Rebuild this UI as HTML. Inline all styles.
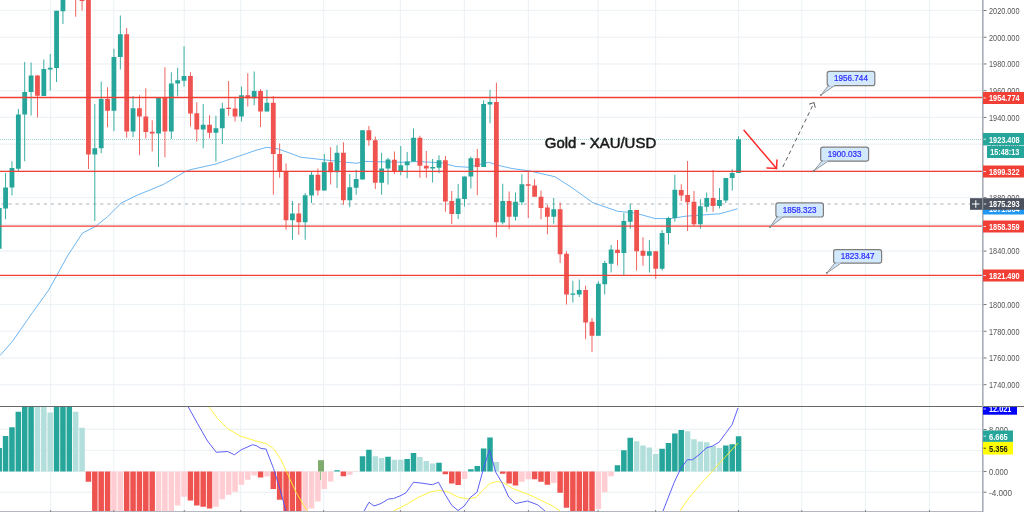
<!DOCTYPE html>
<html><head><meta charset="utf-8"><title>Gold - XAU/USD</title><style>html,body{margin:0;padding:0;background:#fff;overflow:hidden}svg{display:block}</style></head><body>
<svg width="1024" height="512" viewBox="0 0 1024 512" font-family="'Liberation Sans', sans-serif">
<defs><clipPath id="main"><rect x="0" y="0" width="982" height="406"/></clipPath><clipPath id="macd"><rect x="0" y="407" width="982" height="104"/></clipPath><clipPath id="macdax"><rect x="982" y="407" width="42" height="105"/></clipPath></defs>
<rect width="1024" height="512" fill="#fff"/>
<rect x="50.00" y="0" width="1.2" height="511" fill="#edf2f6"/>
<rect x="113.15" y="0" width="1.2" height="511" fill="#edf2f6"/>
<rect x="183.65" y="0" width="1.2" height="511" fill="#edf2f6"/>
<rect x="240.15" y="0" width="1.2" height="511" fill="#edf2f6"/>
<rect x="323.00" y="0" width="1.2" height="511" fill="#edf2f6"/>
<rect x="399.80" y="0" width="1.2" height="511" fill="#edf2f6"/>
<rect x="463.80" y="0" width="1.2" height="511" fill="#edf2f6"/>
<rect x="527.80" y="0" width="1.2" height="511" fill="#edf2f6"/>
<rect x="597.50" y="0" width="1.2" height="511" fill="#edf2f6"/>
<rect x="655.00" y="0" width="1.2" height="511" fill="#edf2f6"/>
<rect x="737.90" y="0" width="1.2" height="511" fill="#edf2f6"/>
<rect x="801.15" y="0" width="1.2" height="511" fill="#edf2f6"/>
<rect x="864.90" y="0" width="1.2" height="511" fill="#edf2f6"/>
<rect x="928.90" y="0" width="1.2" height="511" fill="#edf2f6"/>
<rect x="0" y="384.12" width="982" height="1.2" fill="#edf2f6"/>
<rect x="0" y="357.39" width="982" height="1.2" fill="#edf2f6"/>
<rect x="0" y="330.66" width="982" height="1.2" fill="#edf2f6"/>
<rect x="0" y="303.93" width="982" height="1.2" fill="#edf2f6"/>
<rect x="0" y="277.20" width="982" height="1.2" fill="#edf2f6"/>
<rect x="0" y="250.47" width="982" height="1.2" fill="#edf2f6"/>
<rect x="0" y="223.74" width="982" height="1.2" fill="#edf2f6"/>
<rect x="0" y="197.01" width="982" height="1.2" fill="#edf2f6"/>
<rect x="0" y="170.28" width="982" height="1.2" fill="#edf2f6"/>
<rect x="0" y="143.55" width="982" height="1.2" fill="#edf2f6"/>
<rect x="0" y="116.82" width="982" height="1.2" fill="#edf2f6"/>
<rect x="0" y="90.09" width="982" height="1.2" fill="#edf2f6"/>
<rect x="0" y="63.36" width="982" height="1.2" fill="#edf2f6"/>
<rect x="0" y="36.63" width="982" height="1.2" fill="#edf2f6"/>
<rect x="0" y="9.90" width="982" height="1.2" fill="#edf2f6"/>
<rect x="0" y="428.70" width="982" height="1.2" fill="#edf2f6"/>
<rect x="0" y="449.80" width="982" height="1.2" fill="#edf2f6"/>
<rect x="0" y="470.90" width="982" height="1.2" fill="#edf2f6"/>
<rect x="0" y="491.70" width="982" height="1.2" fill="#edf2f6"/>
<g clip-path="url(#main)">
<line x1="0" y1="139.5" x2="982" y2="139.5" stroke="#26a69a" stroke-width="1" stroke-dasharray="1 1" opacity="0.48"/>
<line x1="1.4" y1="204" x2="982" y2="204" stroke="#c8cbd2" stroke-width="1.4" stroke-dasharray="3.2 3.86"/>
<polyline points="0.00,355.50 12.50,341.25 32.50,312.50 48.75,290.00 67.50,256.00 82.50,233.00 95.00,226.75 107.50,216.75 121.25,203.00 137.50,195.00 150.00,190.00 163.75,184.25 185.00,171.75 190.00,169.75 215.00,164.25 235.00,157.50 256.00,150.25 267.00,147.25 278.50,149.00 301.00,157.25 323.50,159.75 356.00,163.25 366.00,161.50 406.00,162.25 416.00,161.50 441.00,162.75 456.00,166.50 468.50,167.25 488.50,162.25 501.00,166.00 512.00,168.50 530.00,171.00 555.00,176.75 572.50,188.00 592.50,202.50 617.50,211.25 635.00,213.00 655.00,218.50 670.00,218.75 685.00,216.25 720.00,213.75 737.50,208.75" fill="none" stroke="#6db6f3" stroke-width="1.0" stroke-linejoin="round"/>
<rect x="-1.24" y="200.00" width="0.9" height="50.00" fill="#26a69a"/>
<rect x="-3.19" y="208.00" width="4.8" height="40.75" fill="#26a69a"/>
<rect x="5.13" y="173.00" width="0.9" height="46.25" fill="#26a69a"/>
<rect x="3.18" y="187.50" width="4.8" height="21.00" fill="#26a69a"/>
<rect x="11.51" y="161.25" width="0.9" height="34.25" fill="#26a69a"/>
<rect x="9.56" y="168.00" width="4.8" height="19.50" fill="#26a69a"/>
<rect x="17.88" y="109.00" width="0.9" height="62.00" fill="#26a69a"/>
<rect x="15.93" y="114.50" width="4.8" height="54.25" fill="#26a69a"/>
<rect x="24.25" y="62.00" width="0.9" height="99.25" fill="#26a69a"/>
<rect x="22.30" y="92.00" width="4.8" height="22.50" fill="#26a69a"/>
<rect x="30.63" y="62.50" width="0.9" height="53.00" fill="#26a69a"/>
<rect x="28.68" y="75.50" width="4.8" height="16.50" fill="#26a69a"/>
<rect x="37.00" y="75.00" width="0.9" height="42.50" fill="#ef5350"/>
<rect x="35.05" y="75.50" width="4.8" height="20.25" fill="#ef5350"/>
<rect x="43.38" y="59.50" width="0.9" height="36.50" fill="#26a69a"/>
<rect x="41.43" y="69.00" width="4.8" height="27.00" fill="#26a69a"/>
<rect x="49.75" y="54.00" width="0.9" height="36.50" fill="#26a69a"/>
<rect x="47.80" y="67.75" width="4.8" height="1.75" fill="#26a69a"/>
<rect x="56.12" y="10.75" width="0.9" height="71.25" fill="#26a69a"/>
<rect x="54.17" y="10.75" width="4.8" height="57.25" fill="#26a69a"/>
<rect x="62.50" y="-5.00" width="0.9" height="29.00" fill="#26a69a"/>
<rect x="60.55" y="-5.00" width="4.8" height="16.25" fill="#26a69a"/>
<rect x="75.25" y="-5.00" width="0.9" height="21.75" fill="#ef5350"/>
<rect x="73.30" y="-5.00" width="4.8" height="1.20" fill="#ef5350"/>
<rect x="81.62" y="-5.00" width="0.9" height="15.50" fill="#ef5350"/>
<rect x="79.67" y="-5.00" width="4.8" height="6.00" fill="#ef5350"/>
<rect x="87.99" y="-5.00" width="0.9" height="174.00" fill="#ef5350"/>
<rect x="86.04" y="-5.00" width="4.8" height="159.50" fill="#ef5350"/>
<rect x="94.37" y="104.00" width="0.9" height="117.00" fill="#26a69a"/>
<rect x="92.42" y="148.25" width="4.8" height="6.25" fill="#26a69a"/>
<rect x="100.74" y="81.50" width="0.9" height="71.75" fill="#26a69a"/>
<rect x="98.79" y="99.00" width="4.8" height="49.25" fill="#26a69a"/>
<rect x="107.12" y="87.25" width="0.9" height="40.00" fill="#ef5350"/>
<rect x="105.17" y="99.00" width="4.8" height="11.75" fill="#ef5350"/>
<rect x="113.49" y="48.75" width="0.9" height="82.25" fill="#26a69a"/>
<rect x="111.54" y="57.00" width="4.8" height="53.75" fill="#26a69a"/>
<rect x="119.86" y="15.50" width="0.9" height="54.00" fill="#26a69a"/>
<rect x="117.91" y="34.25" width="4.8" height="22.75" fill="#26a69a"/>
<rect x="126.24" y="28.00" width="0.9" height="109.75" fill="#ef5350"/>
<rect x="124.29" y="34.25" width="4.8" height="97.25" fill="#ef5350"/>
<rect x="132.61" y="96.00" width="0.9" height="41.25" fill="#26a69a"/>
<rect x="130.66" y="108.25" width="4.8" height="23.25" fill="#26a69a"/>
<rect x="138.99" y="95.25" width="0.9" height="60.00" fill="#ef5350"/>
<rect x="137.04" y="108.25" width="4.8" height="8.25" fill="#ef5350"/>
<rect x="145.36" y="88.25" width="0.9" height="50.25" fill="#ef5350"/>
<rect x="143.41" y="116.50" width="4.8" height="15.50" fill="#ef5350"/>
<rect x="151.73" y="120.25" width="0.9" height="31.25" fill="#ef5350"/>
<rect x="149.78" y="131.75" width="4.8" height="1.75" fill="#ef5350"/>
<rect x="158.11" y="97.75" width="0.9" height="69.25" fill="#26a69a"/>
<rect x="156.16" y="97.75" width="4.8" height="35.75" fill="#26a69a"/>
<rect x="164.48" y="67.25" width="0.9" height="90.00" fill="#ef5350"/>
<rect x="162.53" y="97.75" width="4.8" height="33.75" fill="#ef5350"/>
<rect x="170.86" y="72.25" width="0.9" height="66.75" fill="#26a69a"/>
<rect x="168.91" y="83.50" width="4.8" height="48.00" fill="#26a69a"/>
<rect x="177.23" y="67.75" width="0.9" height="28.75" fill="#26a69a"/>
<rect x="175.28" y="80.25" width="4.8" height="3.25" fill="#26a69a"/>
<rect x="183.60" y="46.25" width="0.9" height="40.25" fill="#26a69a"/>
<rect x="181.65" y="76.00" width="4.8" height="4.75" fill="#26a69a"/>
<rect x="189.98" y="72.25" width="0.9" height="54.25" fill="#ef5350"/>
<rect x="188.03" y="76.00" width="4.8" height="37.50" fill="#ef5350"/>
<rect x="196.35" y="102.25" width="0.9" height="39.25" fill="#ef5350"/>
<rect x="194.40" y="113.25" width="4.8" height="16.25" fill="#ef5350"/>
<rect x="202.73" y="104.00" width="0.9" height="44.25" fill="#26a69a"/>
<rect x="200.78" y="124.75" width="4.8" height="4.75" fill="#26a69a"/>
<rect x="209.10" y="115.25" width="0.9" height="23.00" fill="#ef5350"/>
<rect x="207.15" y="124.75" width="4.8" height="8.00" fill="#ef5350"/>
<rect x="215.47" y="115.75" width="0.9" height="45.75" fill="#26a69a"/>
<rect x="213.52" y="128.25" width="4.8" height="4.50" fill="#26a69a"/>
<rect x="221.85" y="102.75" width="0.9" height="41.25" fill="#26a69a"/>
<rect x="219.90" y="108.50" width="4.8" height="19.75" fill="#26a69a"/>
<rect x="228.22" y="81.00" width="0.9" height="34.75" fill="#ef5350"/>
<rect x="226.27" y="107.75" width="4.8" height="1.25" fill="#ef5350"/>
<rect x="234.60" y="97.75" width="0.9" height="23.75" fill="#ef5350"/>
<rect x="232.65" y="108.50" width="4.8" height="8.00" fill="#ef5350"/>
<rect x="240.97" y="86.50" width="0.9" height="35.00" fill="#26a69a"/>
<rect x="239.02" y="95.25" width="4.8" height="21.25" fill="#26a69a"/>
<rect x="247.34" y="73.25" width="0.9" height="33.25" fill="#ef5350"/>
<rect x="245.39" y="95.25" width="4.8" height="3.00" fill="#ef5350"/>
<rect x="253.72" y="71.50" width="0.9" height="33.75" fill="#26a69a"/>
<rect x="251.77" y="91.00" width="4.8" height="7.25" fill="#26a69a"/>
<rect x="260.09" y="89.00" width="0.9" height="38.00" fill="#ef5350"/>
<rect x="258.14" y="91.00" width="4.8" height="20.50" fill="#ef5350"/>
<rect x="266.47" y="89.75" width="0.9" height="21.75" fill="#26a69a"/>
<rect x="264.52" y="102.75" width="4.8" height="8.75" fill="#26a69a"/>
<rect x="272.84" y="96.00" width="0.9" height="98.75" fill="#ef5350"/>
<rect x="270.89" y="102.75" width="4.8" height="51.25" fill="#ef5350"/>
<rect x="279.21" y="143.50" width="0.9" height="34.25" fill="#ef5350"/>
<rect x="277.26" y="154.00" width="4.8" height="17.50" fill="#ef5350"/>
<rect x="285.59" y="163.50" width="0.9" height="66.25" fill="#ef5350"/>
<rect x="283.64" y="171.50" width="4.8" height="48.75" fill="#ef5350"/>
<rect x="291.96" y="201.00" width="0.9" height="38.75" fill="#26a69a"/>
<rect x="290.01" y="213.50" width="4.8" height="6.75" fill="#26a69a"/>
<rect x="298.34" y="203.50" width="0.9" height="31.25" fill="#ef5350"/>
<rect x="296.39" y="213.50" width="4.8" height="8.75" fill="#ef5350"/>
<rect x="304.71" y="193.00" width="0.9" height="46.75" fill="#26a69a"/>
<rect x="302.76" y="195.25" width="4.8" height="27.00" fill="#26a69a"/>
<rect x="311.08" y="171.50" width="0.9" height="31.50" fill="#26a69a"/>
<rect x="309.13" y="174.75" width="4.8" height="20.75" fill="#26a69a"/>
<rect x="317.46" y="168.50" width="0.9" height="27.00" fill="#ef5350"/>
<rect x="315.51" y="174.75" width="4.8" height="15.75" fill="#ef5350"/>
<rect x="323.83" y="154.00" width="0.9" height="36.50" fill="#26a69a"/>
<rect x="321.88" y="162.25" width="4.8" height="28.25" fill="#26a69a"/>
<rect x="330.21" y="147.25" width="0.9" height="37.25" fill="#ef5350"/>
<rect x="328.26" y="162.25" width="4.8" height="10.00" fill="#ef5350"/>
<rect x="336.58" y="145.25" width="0.9" height="42.75" fill="#26a69a"/>
<rect x="334.63" y="152.75" width="4.8" height="19.50" fill="#26a69a"/>
<rect x="342.95" y="142.25" width="0.9" height="62.50" fill="#ef5350"/>
<rect x="341.00" y="152.75" width="4.8" height="47.50" fill="#ef5350"/>
<rect x="349.33" y="174.00" width="0.9" height="33.25" fill="#26a69a"/>
<rect x="347.38" y="187.25" width="4.8" height="13.00" fill="#26a69a"/>
<rect x="355.70" y="169.75" width="0.9" height="25.00" fill="#26a69a"/>
<rect x="353.75" y="179.00" width="4.8" height="8.75" fill="#26a69a"/>
<rect x="362.08" y="130.25" width="0.9" height="49.25" fill="#26a69a"/>
<rect x="360.13" y="130.25" width="4.8" height="49.25" fill="#26a69a"/>
<rect x="368.45" y="126.00" width="0.9" height="19.75" fill="#ef5350"/>
<rect x="366.50" y="130.25" width="4.8" height="10.00" fill="#ef5350"/>
<rect x="374.82" y="136.50" width="0.9" height="52.50" fill="#ef5350"/>
<rect x="372.87" y="140.25" width="4.8" height="42.50" fill="#ef5350"/>
<rect x="381.20" y="152.75" width="0.9" height="42.00" fill="#26a69a"/>
<rect x="379.25" y="168.50" width="4.8" height="14.25" fill="#26a69a"/>
<rect x="387.57" y="157.75" width="0.9" height="26.75" fill="#26a69a"/>
<rect x="385.62" y="159.50" width="4.8" height="9.00" fill="#26a69a"/>
<rect x="393.95" y="151.50" width="0.9" height="22.50" fill="#ef5350"/>
<rect x="392.00" y="159.75" width="4.8" height="11.75" fill="#ef5350"/>
<rect x="400.32" y="146.00" width="0.9" height="29.25" fill="#26a69a"/>
<rect x="398.37" y="165.25" width="4.8" height="6.25" fill="#26a69a"/>
<rect x="406.69" y="152.00" width="0.9" height="26.25" fill="#26a69a"/>
<rect x="404.74" y="161.50" width="4.8" height="3.75" fill="#26a69a"/>
<rect x="413.07" y="128.50" width="0.9" height="33.00" fill="#26a69a"/>
<rect x="411.12" y="137.75" width="4.8" height="23.75" fill="#26a69a"/>
<rect x="419.44" y="135.75" width="0.9" height="42.00" fill="#ef5350"/>
<rect x="417.49" y="137.75" width="4.8" height="28.00" fill="#ef5350"/>
<rect x="425.82" y="151.00" width="0.9" height="26.75" fill="#ef5350"/>
<rect x="423.87" y="165.75" width="4.8" height="2.75" fill="#ef5350"/>
<rect x="432.19" y="159.00" width="0.9" height="23.50" fill="#26a69a"/>
<rect x="430.24" y="167.00" width="4.8" height="1.50" fill="#26a69a"/>
<rect x="438.56" y="155.25" width="0.9" height="18.00" fill="#26a69a"/>
<rect x="436.61" y="160.25" width="4.8" height="7.50" fill="#26a69a"/>
<rect x="444.94" y="156.00" width="0.9" height="55.75" fill="#ef5350"/>
<rect x="442.99" y="160.25" width="4.8" height="41.25" fill="#ef5350"/>
<rect x="451.31" y="191.00" width="0.9" height="33.00" fill="#ef5350"/>
<rect x="449.36" y="201.00" width="4.8" height="13.00" fill="#ef5350"/>
<rect x="457.69" y="184.00" width="0.9" height="35.00" fill="#26a69a"/>
<rect x="455.74" y="198.50" width="4.8" height="15.50" fill="#26a69a"/>
<rect x="464.06" y="176.50" width="0.9" height="30.00" fill="#26a69a"/>
<rect x="462.11" y="176.50" width="4.8" height="22.50" fill="#26a69a"/>
<rect x="470.43" y="156.50" width="0.9" height="32.00" fill="#26a69a"/>
<rect x="468.48" y="158.25" width="4.8" height="18.25" fill="#26a69a"/>
<rect x="476.81" y="149.00" width="0.9" height="46.25" fill="#ef5350"/>
<rect x="474.86" y="158.25" width="4.8" height="8.75" fill="#ef5350"/>
<rect x="483.18" y="100.25" width="0.9" height="66.75" fill="#26a69a"/>
<rect x="481.23" y="104.00" width="4.8" height="63.00" fill="#26a69a"/>
<rect x="489.56" y="89.75" width="0.9" height="33.50" fill="#26a69a"/>
<rect x="487.61" y="102.00" width="4.8" height="2.50" fill="#26a69a"/>
<rect x="495.93" y="82.75" width="0.9" height="154.50" fill="#ef5350"/>
<rect x="493.98" y="102.00" width="4.8" height="120.25" fill="#ef5350"/>
<rect x="502.30" y="183.75" width="0.9" height="40.50" fill="#26a69a"/>
<rect x="500.35" y="201.00" width="4.8" height="21.50" fill="#26a69a"/>
<rect x="508.68" y="191.50" width="0.9" height="37.75" fill="#ef5350"/>
<rect x="506.73" y="201.00" width="4.8" height="15.75" fill="#ef5350"/>
<rect x="515.05" y="192.50" width="0.9" height="28.00" fill="#26a69a"/>
<rect x="513.10" y="201.75" width="4.8" height="15.00" fill="#26a69a"/>
<rect x="521.43" y="174.25" width="0.9" height="30.75" fill="#26a69a"/>
<rect x="519.48" y="184.25" width="4.8" height="18.00" fill="#26a69a"/>
<rect x="527.80" y="171.00" width="0.9" height="47.00" fill="#ef5350"/>
<rect x="525.85" y="184.25" width="4.8" height="1.50" fill="#ef5350"/>
<rect x="534.17" y="179.25" width="0.9" height="17.50" fill="#ef5350"/>
<rect x="532.22" y="185.50" width="4.8" height="11.25" fill="#ef5350"/>
<rect x="540.55" y="190.50" width="0.9" height="28.75" fill="#ef5350"/>
<rect x="538.60" y="196.75" width="4.8" height="11.25" fill="#ef5350"/>
<rect x="546.92" y="205.00" width="0.9" height="29.25" fill="#ef5350"/>
<rect x="544.97" y="207.50" width="4.8" height="9.25" fill="#ef5350"/>
<rect x="553.30" y="198.00" width="0.9" height="25.75" fill="#26a69a"/>
<rect x="551.35" y="209.25" width="4.8" height="7.50" fill="#26a69a"/>
<rect x="559.67" y="202.50" width="0.9" height="60.50" fill="#ef5350"/>
<rect x="557.72" y="209.25" width="4.8" height="45.00" fill="#ef5350"/>
<rect x="566.04" y="251.25" width="0.9" height="53.25" fill="#ef5350"/>
<rect x="564.09" y="253.75" width="4.8" height="40.75" fill="#ef5350"/>
<rect x="572.42" y="280.75" width="0.9" height="21.75" fill="#26a69a"/>
<rect x="570.47" y="293.50" width="4.8" height="1.25" fill="#26a69a"/>
<rect x="578.79" y="279.50" width="0.9" height="17.50" fill="#26a69a"/>
<rect x="576.84" y="290.00" width="4.8" height="4.50" fill="#26a69a"/>
<rect x="585.17" y="285.75" width="0.9" height="53.50" fill="#ef5350"/>
<rect x="583.22" y="290.00" width="4.8" height="32.50" fill="#ef5350"/>
<rect x="591.54" y="318.00" width="0.9" height="34.00" fill="#ef5350"/>
<rect x="589.59" y="321.75" width="4.8" height="14.00" fill="#ef5350"/>
<rect x="597.91" y="281.25" width="0.9" height="54.50" fill="#26a69a"/>
<rect x="595.96" y="283.75" width="4.8" height="52.00" fill="#26a69a"/>
<rect x="604.29" y="260.75" width="0.9" height="33.75" fill="#26a69a"/>
<rect x="602.34" y="263.00" width="4.8" height="21.25" fill="#26a69a"/>
<rect x="610.66" y="245.00" width="0.9" height="27.50" fill="#26a69a"/>
<rect x="608.71" y="249.50" width="4.8" height="14.25" fill="#26a69a"/>
<rect x="617.04" y="240.00" width="0.9" height="25.50" fill="#ef5350"/>
<rect x="615.09" y="249.75" width="4.8" height="3.25" fill="#ef5350"/>
<rect x="623.41" y="213.00" width="0.9" height="62.00" fill="#26a69a"/>
<rect x="621.46" y="221.00" width="4.8" height="32.00" fill="#26a69a"/>
<rect x="629.78" y="203.75" width="0.9" height="25.00" fill="#26a69a"/>
<rect x="627.83" y="210.00" width="4.8" height="11.75" fill="#26a69a"/>
<rect x="636.16" y="210.00" width="0.9" height="60.50" fill="#ef5350"/>
<rect x="634.21" y="210.00" width="4.8" height="41.25" fill="#ef5350"/>
<rect x="642.53" y="237.25" width="0.9" height="28.50" fill="#ef5350"/>
<rect x="640.58" y="250.75" width="4.8" height="5.00" fill="#ef5350"/>
<rect x="648.91" y="240.00" width="0.9" height="32.50" fill="#26a69a"/>
<rect x="646.96" y="251.25" width="4.8" height="4.50" fill="#26a69a"/>
<rect x="655.28" y="251.00" width="0.9" height="27.75" fill="#ef5350"/>
<rect x="653.33" y="251.25" width="4.8" height="17.50" fill="#ef5350"/>
<rect x="661.65" y="230.00" width="0.9" height="40.50" fill="#26a69a"/>
<rect x="659.70" y="233.00" width="4.8" height="35.75" fill="#26a69a"/>
<rect x="668.03" y="216.75" width="0.9" height="27.75" fill="#26a69a"/>
<rect x="666.08" y="218.00" width="4.8" height="15.00" fill="#26a69a"/>
<rect x="674.40" y="174.75" width="0.9" height="47.00" fill="#26a69a"/>
<rect x="672.45" y="189.75" width="4.8" height="28.25" fill="#26a69a"/>
<rect x="680.78" y="184.25" width="0.9" height="16.75" fill="#ef5350"/>
<rect x="678.83" y="190.00" width="4.8" height="5.50" fill="#ef5350"/>
<rect x="687.15" y="161.00" width="0.9" height="70.00" fill="#ef5350"/>
<rect x="685.20" y="195.00" width="4.8" height="7.25" fill="#ef5350"/>
<rect x="693.52" y="191.00" width="0.9" height="35.00" fill="#ef5350"/>
<rect x="691.57" y="201.75" width="4.8" height="22.50" fill="#ef5350"/>
<rect x="699.90" y="199.25" width="0.9" height="29.50" fill="#26a69a"/>
<rect x="697.95" y="206.25" width="4.8" height="18.00" fill="#26a69a"/>
<rect x="706.27" y="192.50" width="0.9" height="19.25" fill="#26a69a"/>
<rect x="704.32" y="198.00" width="4.8" height="8.75" fill="#26a69a"/>
<rect x="712.65" y="170.00" width="0.9" height="41.75" fill="#ef5350"/>
<rect x="710.70" y="198.00" width="4.8" height="8.00" fill="#ef5350"/>
<rect x="719.02" y="188.00" width="0.9" height="20.50" fill="#26a69a"/>
<rect x="717.07" y="200.00" width="4.8" height="6.00" fill="#26a69a"/>
<rect x="725.39" y="178.00" width="0.9" height="25.00" fill="#26a69a"/>
<rect x="723.44" y="178.00" width="4.8" height="22.50" fill="#26a69a"/>
<rect x="731.77" y="169.25" width="0.9" height="21.25" fill="#26a69a"/>
<rect x="729.82" y="173.00" width="4.8" height="5.00" fill="#26a69a"/>
<rect x="738.14" y="136.25" width="0.9" height="36.75" fill="#26a69a"/>
<rect x="736.19" y="139.25" width="4.8" height="33.75" fill="#26a69a"/>
<line x1="0" y1="97.5" x2="982" y2="97.5" stroke="#f23f36" stroke-width="1.3"/>
<line x1="0" y1="171.45" x2="982" y2="171.45" stroke="#f23f36" stroke-width="1.3"/>
<line x1="0" y1="226.1" x2="982" y2="226.1" stroke="#f23f36" stroke-width="1.3"/>
<line x1="0" y1="275.4" x2="982" y2="275.4" stroke="#f23f36" stroke-width="1.3"/>
</g>
<g clip-path="url(#macd)">
<rect x="-3.54" y="448.00" width="5.5" height="23.50" fill="#26a69a"/>
<rect x="2.83" y="436.00" width="5.5" height="35.50" fill="#26a69a"/>
<rect x="9.21" y="427.25" width="5.5" height="44.25" fill="#26a69a"/>
<rect x="15.58" y="411.75" width="5.5" height="59.75" fill="#26a69a"/>
<rect x="21.95" y="400.00" width="5.5" height="71.50" fill="#26a69a"/>
<rect x="28.33" y="400.00" width="5.5" height="71.50" fill="#26a69a"/>
<rect x="34.70" y="400.00" width="5.5" height="71.50" fill="#b2dfdb"/>
<rect x="41.08" y="400.00" width="5.5" height="71.50" fill="#b2dfdb"/>
<rect x="47.45" y="412.50" width="5.5" height="59.00" fill="#b2dfdb"/>
<rect x="53.82" y="407.00" width="5.5" height="64.50" fill="#26a69a"/>
<rect x="60.20" y="400.00" width="5.5" height="71.50" fill="#26a69a"/>
<rect x="66.57" y="400.00" width="5.5" height="71.50" fill="#26a69a"/>
<rect x="72.95" y="411.75" width="5.5" height="59.75" fill="#b2dfdb"/>
<rect x="79.32" y="427.75" width="5.5" height="43.75" fill="#b2dfdb"/>
<rect x="85.69" y="471.50" width="5.5" height="10.25" fill="#ef5350"/>
<rect x="92.07" y="471.50" width="5.5" height="48.50" fill="#ef5350"/>
<rect x="98.44" y="471.50" width="5.5" height="48.50" fill="#ef5350"/>
<rect x="104.82" y="471.50" width="5.5" height="48.50" fill="#ef5350"/>
<rect x="111.19" y="471.50" width="5.5" height="48.50" fill="#ffcdd2"/>
<rect x="117.56" y="471.50" width="5.5" height="48.50" fill="#ffcdd2"/>
<rect x="123.94" y="471.50" width="5.5" height="48.50" fill="#ef5350"/>
<rect x="130.31" y="471.50" width="5.5" height="48.50" fill="#ef5350"/>
<rect x="136.69" y="471.50" width="5.5" height="48.50" fill="#ef5350"/>
<rect x="143.06" y="471.50" width="5.5" height="48.50" fill="#ef5350"/>
<rect x="149.43" y="471.50" width="5.5" height="48.50" fill="#ef5350"/>
<rect x="155.81" y="471.50" width="5.5" height="48.50" fill="#ffcdd2"/>
<rect x="162.18" y="471.50" width="5.5" height="48.50" fill="#ffcdd2"/>
<rect x="168.56" y="471.50" width="5.5" height="48.50" fill="#ffcdd2"/>
<rect x="174.93" y="471.50" width="5.5" height="34.00" fill="#ffcdd2"/>
<rect x="181.30" y="471.50" width="5.5" height="25.25" fill="#ffcdd2"/>
<rect x="187.68" y="471.50" width="5.5" height="29.00" fill="#ef5350"/>
<rect x="194.05" y="471.50" width="5.5" height="34.00" fill="#ef5350"/>
<rect x="200.43" y="471.50" width="5.5" height="35.25" fill="#ef5350"/>
<rect x="206.80" y="471.50" width="5.5" height="37.00" fill="#ef5350"/>
<rect x="213.17" y="471.50" width="5.5" height="35.25" fill="#ffcdd2"/>
<rect x="219.55" y="471.50" width="5.5" height="27.75" fill="#ffcdd2"/>
<rect x="225.92" y="471.50" width="5.5" height="23.25" fill="#ffcdd2"/>
<rect x="232.30" y="471.50" width="5.5" height="20.25" fill="#ffcdd2"/>
<rect x="238.67" y="471.50" width="5.5" height="13.25" fill="#ffcdd2"/>
<rect x="245.04" y="471.50" width="5.5" height="8.25" fill="#ffcdd2"/>
<rect x="251.42" y="471.50" width="5.5" height="4.00" fill="#ffcdd2"/>
<rect x="257.79" y="471.50" width="5.5" height="6.00" fill="#ef5350"/>
<rect x="264.17" y="471.50" width="5.5" height="5.00" fill="#ffcdd2"/>
<rect x="270.54" y="471.50" width="5.5" height="17.50" fill="#ef5350"/>
<rect x="276.91" y="471.50" width="5.5" height="28.25" fill="#ef5350"/>
<rect x="283.29" y="471.50" width="5.5" height="48.50" fill="#ef5350"/>
<rect x="289.66" y="471.50" width="5.5" height="48.50" fill="#ef5350"/>
<rect x="296.04" y="471.50" width="5.5" height="48.50" fill="#ef5350"/>
<rect x="302.41" y="471.50" width="5.5" height="48.50" fill="#ffcdd2"/>
<rect x="308.78" y="471.50" width="5.5" height="37.00" fill="#ffcdd2"/>
<rect x="315.16" y="471.50" width="5.5" height="30.00" fill="#ffcdd2"/>
<rect x="321.53" y="471.50" width="5.5" height="17.50" fill="#ffcdd2"/>
<rect x="327.91" y="471.50" width="5.5" height="10.00" fill="#ffcdd2"/>
<rect x="334.28" y="470.25" width="5.5" height="1.25" fill="#26a69a"/>
<rect x="340.65" y="471.50" width="5.5" height="4.75" fill="#ef5350"/>
<rect x="347.03" y="471.50" width="5.5" height="3.25" fill="#ffcdd2"/>
<rect x="353.40" y="471.50" width="5.5" height="0.50" fill="#ffcdd2"/>
<rect x="359.78" y="456.25" width="5.5" height="15.25" fill="#26a69a"/>
<rect x="366.15" y="449.75" width="5.5" height="21.75" fill="#26a69a"/>
<rect x="372.52" y="456.25" width="5.5" height="15.25" fill="#b2dfdb"/>
<rect x="378.90" y="458.00" width="5.5" height="13.50" fill="#b2dfdb"/>
<rect x="385.27" y="456.75" width="5.5" height="14.75" fill="#26a69a"/>
<rect x="391.65" y="459.75" width="5.5" height="11.75" fill="#b2dfdb"/>
<rect x="398.02" y="459.75" width="5.5" height="11.75" fill="#b2dfdb"/>
<rect x="404.39" y="459.00" width="5.5" height="12.50" fill="#26a69a"/>
<rect x="410.77" y="453.00" width="5.5" height="18.50" fill="#26a69a"/>
<rect x="417.14" y="457.00" width="5.5" height="14.50" fill="#b2dfdb"/>
<rect x="423.52" y="461.00" width="5.5" height="10.50" fill="#b2dfdb"/>
<rect x="429.89" y="463.50" width="5.5" height="8.00" fill="#b2dfdb"/>
<rect x="436.26" y="462.75" width="5.5" height="8.75" fill="#26a69a"/>
<rect x="442.64" y="471.50" width="5.5" height="2.75" fill="#ef5350"/>
<rect x="449.01" y="471.50" width="5.5" height="12.00" fill="#ef5350"/>
<rect x="455.39" y="471.50" width="5.5" height="13.50" fill="#ef5350"/>
<rect x="461.76" y="471.50" width="5.5" height="7.50" fill="#ffcdd2"/>
<rect x="468.13" y="469.25" width="5.5" height="2.25" fill="#26a69a"/>
<rect x="474.51" y="466.00" width="5.5" height="5.50" fill="#26a69a"/>
<rect x="480.88" y="448.50" width="5.5" height="23.00" fill="#26a69a"/>
<rect x="487.26" y="437.50" width="5.5" height="34.00" fill="#26a69a"/>
<rect x="493.63" y="462.00" width="5.5" height="9.50" fill="#b2dfdb"/>
<rect x="500.00" y="471.50" width="5.5" height="2.25" fill="#ef5350"/>
<rect x="506.38" y="471.50" width="5.5" height="12.00" fill="#ef5350"/>
<rect x="512.75" y="471.50" width="5.5" height="14.00" fill="#ef5350"/>
<rect x="519.13" y="471.50" width="5.5" height="10.25" fill="#ffcdd2"/>
<rect x="525.50" y="471.50" width="5.5" height="7.75" fill="#ffcdd2"/>
<rect x="531.87" y="471.50" width="5.5" height="7.75" fill="#ef5350"/>
<rect x="538.25" y="471.50" width="5.5" height="10.25" fill="#ef5350"/>
<rect x="544.62" y="471.50" width="5.5" height="13.25" fill="#ef5350"/>
<rect x="551.00" y="471.50" width="5.5" height="11.50" fill="#ffcdd2"/>
<rect x="557.37" y="471.50" width="5.5" height="21.25" fill="#ef5350"/>
<rect x="563.74" y="471.50" width="5.5" height="36.25" fill="#ef5350"/>
<rect x="570.12" y="471.50" width="5.5" height="48.50" fill="#ef5350"/>
<rect x="576.49" y="471.50" width="5.5" height="48.50" fill="#ef5350"/>
<rect x="582.87" y="471.50" width="5.5" height="48.50" fill="#ef5350"/>
<rect x="589.24" y="471.50" width="5.5" height="48.50" fill="#ef5350"/>
<rect x="595.61" y="471.50" width="5.5" height="37.50" fill="#ffcdd2"/>
<rect x="601.99" y="471.50" width="5.5" height="20.75" fill="#ffcdd2"/>
<rect x="608.36" y="471.50" width="5.5" height="4.75" fill="#ffcdd2"/>
<rect x="614.74" y="465.25" width="5.5" height="6.25" fill="#26a69a"/>
<rect x="621.11" y="450.25" width="5.5" height="21.25" fill="#26a69a"/>
<rect x="627.48" y="437.75" width="5.5" height="33.75" fill="#26a69a"/>
<rect x="633.86" y="441.25" width="5.5" height="30.25" fill="#b2dfdb"/>
<rect x="640.23" y="445.50" width="5.5" height="26.00" fill="#b2dfdb"/>
<rect x="646.61" y="447.50" width="5.5" height="24.00" fill="#b2dfdb"/>
<rect x="652.98" y="454.00" width="5.5" height="17.50" fill="#b2dfdb"/>
<rect x="659.35" y="448.75" width="5.5" height="22.75" fill="#26a69a"/>
<rect x="665.73" y="443.00" width="5.5" height="28.50" fill="#26a69a"/>
<rect x="672.10" y="433.50" width="5.5" height="38.00" fill="#26a69a"/>
<rect x="678.48" y="430.00" width="5.5" height="41.50" fill="#26a69a"/>
<rect x="684.85" y="431.25" width="5.5" height="40.25" fill="#b2dfdb"/>
<rect x="691.22" y="439.25" width="5.5" height="32.25" fill="#b2dfdb"/>
<rect x="697.60" y="441.50" width="5.5" height="30.00" fill="#b2dfdb"/>
<rect x="703.97" y="442.25" width="5.5" height="29.25" fill="#b2dfdb"/>
<rect x="710.35" y="446.00" width="5.5" height="25.50" fill="#b2dfdb"/>
<rect x="716.72" y="448.00" width="5.5" height="23.50" fill="#b2dfdb"/>
<rect x="723.09" y="445.50" width="5.5" height="26.00" fill="#26a69a"/>
<rect x="729.47" y="444.25" width="5.5" height="27.25" fill="#26a69a"/>
<rect x="735.84" y="436.25" width="5.5" height="35.25" fill="#26a69a"/>
<rect x="318" y="460.2" width="6" height="11.3" fill="#7fab6e"/><rect x="320" y="471" width="1" height="9" fill="#9bbf8c"/>
<polyline points="206.00,400.00 208.75,406.50 217.50,418.50 227.50,428.50 240.00,436.00 256.00,441.00 266.00,443.50 273.50,448.50 281.00,459.75 288.50,476.00 296.00,492.25 307.25,511.00 310.00,516.00" fill="none" stroke="#fff22e" stroke-width="0.9" stroke-linejoin="round"/>
<polyline points="391.00,516.00 393.50,511.00 406.00,504.75 418.50,497.25 431.00,491.75 439.75,490.25 448.50,492.25 458.50,497.25 468.50,499.00 476.00,497.25 483.50,489.75 489.75,483.50 497.25,481.50 503.50,482.75 512.50,488.50 527.50,494.00 540.00,499.75 552.50,506.00 560.00,511.00 564.00,515.00" fill="none" stroke="#fff22e" stroke-width="0.9" stroke-linejoin="round"/>
<polyline points="677.00,516.00 680.00,511.00 687.50,499.75 700.00,484.75 712.50,471.00 725.00,457.25 738.00,443.00" fill="none" stroke="#fff22e" stroke-width="0.9" stroke-linejoin="round"/>
<polyline points="186.00,400.00 188.00,406.50 197.50,423.50 207.50,441.00 216.25,452.25 227.50,451.50 234.50,454.75 241.25,449.75 252.50,444.75 256.00,445.50 261.00,448.50 266.00,449.00 273.50,468.50 279.75,488.50 286.00,511.00 288.00,518.00" fill="none" stroke="#4d4df6" stroke-width="0.9" stroke-linejoin="round"/>
<polyline points="362.00,518.00 364.00,511.00 369.00,502.25 374.00,506.00 381.00,503.50 388.50,499.00 393.50,498.50 401.00,495.50 406.00,492.75 413.50,482.25 421.00,483.00 432.25,484.75 438.50,482.25 445.25,494.75 451.75,505.25 458.00,510.50 464.25,506.00 470.50,497.25 477.00,492.25 483.50,468.50 489.50,449.75 495.75,472.25 502.50,483.50 508.75,497.25 515.75,503.50 527.50,501.00 537.50,504.75 545.00,511.00 548.00,516.00" fill="none" stroke="#4d4df6" stroke-width="0.9" stroke-linejoin="round"/>
<polyline points="661.00,517.00 663.00,511.00 674.25,482.25 680.75,468.50 687.25,459.75 692.50,459.75 700.00,454.00 706.25,448.00 712.50,446.00 719.00,442.25 725.50,433.50 732.00,424.75 738.00,408.00" fill="none" stroke="#4d4df6" stroke-width="0.9" stroke-linejoin="round"/>
</g>
<rect x="0" y="406" width="1024" height="1" fill="#686868"/>
<rect x="0" y="511" width="982" height="1" fill="#b4b7bf"/>
<rect x="50.10" y="510" width="1" height="2" fill="#888"/>
<rect x="113.25" y="510" width="1" height="2" fill="#888"/>
<rect x="183.75" y="510" width="1" height="2" fill="#888"/>
<rect x="240.25" y="510" width="1" height="2" fill="#888"/>
<rect x="323.10" y="510" width="1" height="2" fill="#888"/>
<rect x="399.90" y="510" width="1" height="2" fill="#888"/>
<rect x="463.90" y="510" width="1" height="2" fill="#888"/>
<rect x="527.90" y="510" width="1" height="2" fill="#888"/>
<rect x="597.60" y="510" width="1" height="2" fill="#888"/>
<rect x="655.10" y="510" width="1" height="2" fill="#888"/>
<rect x="738.00" y="510" width="1" height="2" fill="#888"/>
<rect x="801.25" y="510" width="1" height="2" fill="#888"/>
<rect x="865.00" y="510" width="1" height="2" fill="#888"/>
<rect x="929.00" y="510" width="1" height="2" fill="#888"/>
<rect x="982" y="0" width="1.6" height="512" fill="#a9adb8"/>
<rect x="983.5" y="384.22" width="3" height="1" fill="#777"/>
<text x="989" y="388.02" font-size="9" fill="#555" textLength="30.5" lengthAdjust="spacingAndGlyphs">1740.000</text>
<rect x="983.5" y="357.49" width="3" height="1" fill="#777"/>
<text x="989" y="361.29" font-size="9" fill="#555" textLength="30.5" lengthAdjust="spacingAndGlyphs">1760.000</text>
<rect x="983.5" y="330.76" width="3" height="1" fill="#777"/>
<text x="989" y="334.56" font-size="9" fill="#555" textLength="30.5" lengthAdjust="spacingAndGlyphs">1780.000</text>
<rect x="983.5" y="304.03" width="3" height="1" fill="#777"/>
<text x="989" y="307.83" font-size="9" fill="#555" textLength="30.5" lengthAdjust="spacingAndGlyphs">1800.000</text>
<rect x="983.5" y="277.30" width="3" height="1" fill="#777"/>
<text x="989" y="281.10" font-size="9" fill="#555" textLength="30.5" lengthAdjust="spacingAndGlyphs">1820.000</text>
<rect x="983.5" y="250.57" width="3" height="1" fill="#777"/>
<text x="989" y="254.37" font-size="9" fill="#555" textLength="30.5" lengthAdjust="spacingAndGlyphs">1840.000</text>
<rect x="983.5" y="223.84" width="3" height="1" fill="#777"/>
<text x="989" y="227.64" font-size="9" fill="#555" textLength="30.5" lengthAdjust="spacingAndGlyphs">1860.000</text>
<rect x="983.5" y="197.11" width="3" height="1" fill="#777"/>
<text x="989" y="200.91" font-size="9" fill="#555" textLength="30.5" lengthAdjust="spacingAndGlyphs">1880.000</text>
<rect x="983.5" y="170.38" width="3" height="1" fill="#777"/>
<text x="989" y="174.18" font-size="9" fill="#555" textLength="30.5" lengthAdjust="spacingAndGlyphs">1900.000</text>
<rect x="983.5" y="143.65" width="3" height="1" fill="#777"/>
<text x="989" y="147.45" font-size="9" fill="#555" textLength="30.5" lengthAdjust="spacingAndGlyphs">1920.000</text>
<rect x="983.5" y="116.92" width="3" height="1" fill="#777"/>
<text x="989" y="120.72" font-size="9" fill="#555" textLength="30.5" lengthAdjust="spacingAndGlyphs">1940.000</text>
<rect x="983.5" y="90.19" width="3" height="1" fill="#777"/>
<text x="989" y="93.99" font-size="9" fill="#555" textLength="30.5" lengthAdjust="spacingAndGlyphs">1960.000</text>
<rect x="983.5" y="63.46" width="3" height="1" fill="#777"/>
<text x="989" y="67.26" font-size="9" fill="#555" textLength="30.5" lengthAdjust="spacingAndGlyphs">1980.000</text>
<rect x="983.5" y="36.73" width="3" height="1" fill="#777"/>
<text x="989" y="40.53" font-size="9" fill="#555" textLength="30.5" lengthAdjust="spacingAndGlyphs">2000.000</text>
<rect x="983.5" y="10.00" width="3" height="1" fill="#777"/>
<text x="989" y="13.80" font-size="9" fill="#555" textLength="30.5" lengthAdjust="spacingAndGlyphs">2020.000</text>
<g clip-path="url(#macdax)">
<rect x="983.5" y="429.00" width="3" height="1" fill="#777"/>
<text x="989" y="432.80" font-size="9" fill="#555" textLength="19" lengthAdjust="spacingAndGlyphs">8.000</text>
<rect x="983.5" y="471.00" width="3" height="1" fill="#777"/>
<text x="989" y="474.80" font-size="9" fill="#555" textLength="19" lengthAdjust="spacingAndGlyphs">0.000</text>
<rect x="983.5" y="491.70" width="3" height="1" fill="#777"/>
<text x="989" y="495.50" font-size="9" fill="#555" textLength="23" lengthAdjust="spacingAndGlyphs">-4.000</text>
</g>
<rect x="983" y="92.00" width="41" height="12" fill="#f23f36"/>
<rect x="983.5" y="97.50" width="2.5" height="1" fill="#fff" opacity="0.8"/>
<text x="989" y="101.30" font-size="9" font-weight="bold" fill="#fff" textLength="30.6" lengthAdjust="spacingAndGlyphs">1954.774</text>
<rect x="983" y="133.00" width="41" height="12.4" fill="#26a69a"/>
<rect x="983.5" y="138.70" width="2.5" height="1" fill="#fff" opacity="0.8"/>
<text x="989" y="142.50" font-size="9" font-weight="bold" fill="#fff" textLength="30.6" lengthAdjust="spacingAndGlyphs">1923.408</text>
<rect x="987" y="146.00" width="37" height="12" fill="#26a69a"/>
<rect x="983.5" y="151.50" width="2.5" height="1" fill="#fff" opacity="0.8"/>
<text x="990.3" y="155.30" font-size="9" font-weight="bold" fill="#fff" textLength="29" lengthAdjust="spacingAndGlyphs">15:48:13</text>
<rect x="983" y="165.50" width="41" height="12" fill="#f23f36"/>
<rect x="983.5" y="171.00" width="2.5" height="1" fill="#fff" opacity="0.8"/>
<text x="989" y="174.80" font-size="9" font-weight="bold" fill="#fff" textLength="30.6" lengthAdjust="spacingAndGlyphs">1899.322</text>
<rect x="983" y="202.50" width="41" height="12" fill="#2196f3"/>
<rect x="983.5" y="208.00" width="2.5" height="1" fill="#fff" opacity="0.8"/>
<text x="989" y="211.80" font-size="9" font-weight="bold" fill="#fff" textLength="30.6" lengthAdjust="spacingAndGlyphs">1871.864</text>
<rect x="970" y="198.2" width="54" height="11.6" fill="#4c525e"/>
<rect x="982" y="198.2" width="1.2" height="11.6" fill="#8d919b"/>
<rect x="972" y="203.5" width="7.5" height="1" fill="#fff"/><rect x="975.3" y="200.2" width="1" height="7.6" fill="#fff"/>
<rect x="983.8" y="203.5" width="2.5" height="1" fill="#ddd"/>
<text x="989" y="207.3" font-size="9" font-weight="bold" fill="#fff" textLength="30.6" lengthAdjust="spacingAndGlyphs">1875.293</text>
<rect x="983" y="220.50" width="41" height="12" fill="#f23f36"/>
<rect x="983.5" y="226.00" width="2.5" height="1" fill="#fff" opacity="0.8"/>
<text x="989" y="229.80" font-size="9" font-weight="bold" fill="#fff" textLength="30.6" lengthAdjust="spacingAndGlyphs">1858.359</text>
<rect x="983" y="269.50" width="41" height="12" fill="#f23f36"/>
<rect x="983.5" y="275.00" width="2.5" height="1" fill="#fff" opacity="0.8"/>
<text x="989" y="278.80" font-size="9" font-weight="bold" fill="#fff" textLength="30.6" lengthAdjust="spacingAndGlyphs">1821.490</text>
<g clip-path="url(#macdax)">
<rect x="983" y="406.10" width="34" height="8.6" fill="#0000ff"/>
<rect x="983.5" y="408.50" width="2.5" height="1" fill="#fff" opacity="0.8"/>
<text x="989" y="412.30" font-size="9" font-weight="bold" fill="#fff" textLength="22.3" lengthAdjust="spacingAndGlyphs">12.021</text>
</g>
<rect x="983" y="430.50" width="30" height="11.4" fill="#26a69a"/>
<rect x="983.5" y="435.70" width="2.5" height="1" fill="#fff" opacity="0.8"/>
<text x="989" y="439.50" font-size="9" font-weight="bold" fill="#fff" textLength="18.8" lengthAdjust="spacingAndGlyphs">6.665</text>
<rect x="983" y="441.90" width="30" height="12.6" fill="#ffff00"/>
<rect x="983.5" y="447.70" width="2.5" height="1" fill="#222" opacity="0.8"/>
<text x="989" y="451.50" font-size="9" font-weight="bold" fill="#222" textLength="18.8" lengthAdjust="spacingAndGlyphs">5.356</text>
<text x="544.8" y="148.3" font-size="15.2" fill="#1a1a1a" stroke="#1a1a1a" stroke-width="0.5" textLength="111.4" lengthAdjust="spacingAndGlyphs">Gold - XAU/USD</text>
<path d="M828.7,85.1 L820.9,95.1 L835.2,85.1 Z" fill="#cfe6fb" stroke="#8a8a8a" stroke-width="0.9" stroke-linejoin="round"/>
<rect x="827.2" y="71.3" width="47.59999999999991" height="14.299999999999997" rx="2.2" fill="#d2e8fc" stroke="#7d7d7d" stroke-width="1.2"/>
<path d="M829.3000000000001,85.0 L834.4000000000001,85.0 L833.8000000000001,86.1 L829.0,86.1 Z" fill="#d2e8fc"/>
<circle cx="820.9" cy="95.1" r="0.9" fill="#777"/>
<text x="834.10" y="81.35" font-size="8.8" fill="#2c2cff" stroke="#2c2cff" stroke-width="0.22" textLength="33.8" lengthAdjust="spacingAndGlyphs">1956.744</text>
<path d="M822.2,160.7 L813.7,171 L828.7,160.7 Z" fill="#cfe6fb" stroke="#8a8a8a" stroke-width="0.9" stroke-linejoin="round"/>
<rect x="820.7" y="147.2" width="47.89999999999998" height="14.0" rx="2.2" fill="#d2e8fc" stroke="#7d7d7d" stroke-width="1.2"/>
<path d="M822.8000000000001,160.6 L827.9000000000001,160.6 L827.3000000000001,161.7 L822.5,161.7 Z" fill="#d2e8fc"/>
<circle cx="813.7" cy="171" r="0.9" fill="#777"/>
<text x="827.75" y="157.10" font-size="8.8" fill="#2c2cff" stroke="#2c2cff" stroke-width="0.22" textLength="33.8" lengthAdjust="spacingAndGlyphs">1900.033</text>
<path d="M777.4,216.5 L770,227 L783.9,216.5 Z" fill="#cfe6fb" stroke="#8a8a8a" stroke-width="0.9" stroke-linejoin="round"/>
<rect x="775.9" y="202.9" width="47.5" height="14.099999999999994" rx="2.2" fill="#d2e8fc" stroke="#7d7d7d" stroke-width="1.2"/>
<path d="M778.0,216.4 L783.1,216.4 L782.5,217.5 L777.6999999999999,217.5 Z" fill="#d2e8fc"/>
<circle cx="770" cy="227" r="0.9" fill="#777"/>
<text x="782.75" y="212.85" font-size="8.8" fill="#2c2cff" stroke="#2c2cff" stroke-width="0.22" textLength="33.8" lengthAdjust="spacingAndGlyphs">1858.323</text>
<path d="M835.1,262.7 L826.8,273 L841.6,262.7 Z" fill="#cfe6fb" stroke="#8a8a8a" stroke-width="0.9" stroke-linejoin="round"/>
<rect x="833.6" y="249.6" width="48.0" height="13.599999999999994" rx="2.2" fill="#d2e8fc" stroke="#7d7d7d" stroke-width="1.2"/>
<path d="M835.7,262.59999999999997 L840.8000000000001,262.59999999999997 L840.2,263.7 L835.4,263.7 Z" fill="#d2e8fc"/>
<circle cx="826.8" cy="273" r="0.9" fill="#777"/>
<text x="840.70" y="259.30" font-size="8.8" fill="#2c2cff" stroke="#2c2cff" stroke-width="0.22" textLength="33.8" lengthAdjust="spacingAndGlyphs">1823.847</text>
<g stroke="#ff2a2a" stroke-width="1.5" fill="none" stroke-linecap="round"><line x1="744" y1="130.3" x2="776.5" y2="168.5"/><polyline points="777,160 776.5,168.5 767,168"/></g>
<g stroke="#555" stroke-width="0.95" fill="none"><line x1="782.8" y1="167" x2="814" y2="102.8" stroke-dasharray="4 3.1"/><polyline points="809,104.2 814,102.6 815.3,107.8"/></g>
</svg>
</body></html>
